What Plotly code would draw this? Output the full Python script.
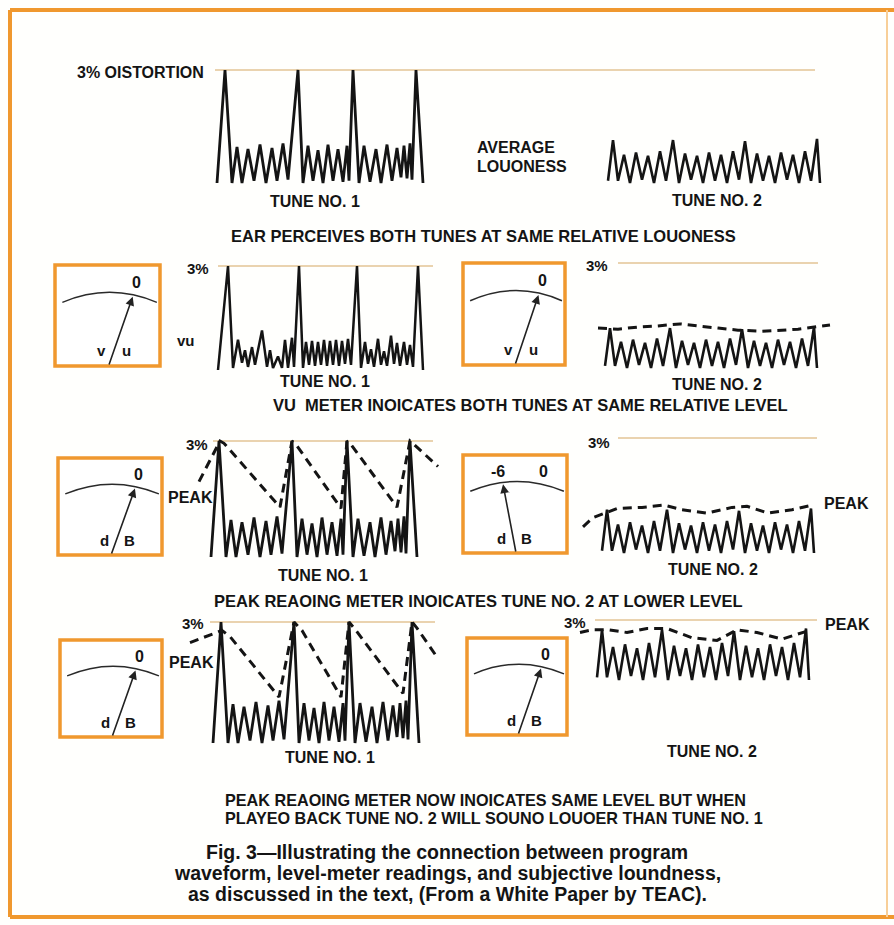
import plotly.graph_objects as go

W, H = 894, 925

# ---------------- data ----------------
# Levels are relative: 0 = waveform baseline, 1.0 = the "3 % distortion" line.
# Time is in arbitrary units along each waveform.

# Tune No. 1 (rows 1, 3, 4)
TUNE1_T = [0, 8, 15, 20, 25, 31, 37, 43, 49, 55, 60, 66, 71, 81, 86, 91, 96, 101, 106,
           111, 116, 121, 126, 130, 132, 136, 142, 147, 153, 159, 164, 170, 175, 180,
           184, 187, 190, 193, 195, 199, 206]
TUNE1_A = [0.0, 1.0, 0.0, 0.32, 0.0, 0.30, 0.02, 0.34, 0.0, 0.31, 0.02, 0.35, 0.03, 1.0,
           0.0, 0.33, 0.02, 0.29, 0.0, 0.34, 0.02, 0.30, 0.01, 0.33, 0.02, 1.0, 0.0, 0.33,
           0.01, 0.30, 0.0, 0.34, 0.02, 0.31, 0.05, 0.33, 0.04, 0.35, 0.03, 1.0, 0.0]

# Tune No. 1 as drawn in the VU row (row 2)
TUNE1_VU_T = [0, 10, 15, 20, 24, 27, 30, 34, 37, 44, 49, 52, 55, 60, 64, 67, 70, 74, 76, 81,
              85, 88, 91, 94, 97, 100, 103, 106, 109, 112, 115, 118, 121, 124, 127, 130, 133,
              139, 143, 147, 150, 153, 156, 160, 163, 166, 169, 173, 176, 179, 182, 186,
              189, 192, 195, 200, 205]
TUNE1_VU_A = [0.0, 1.0, 0.02, 0.29, 0.07, 0.19, 0.03, 0.22, 0.05, 0.38, 0.03, 0.19, 0.02,
              0.13, 0.02, 0.29, 0.02, 0.31, 0.03, 1.0, 0.02, 0.27, 0.05, 0.28, 0.04, 0.27,
              0.05, 0.29, 0.04, 0.28, 0.05, 0.29, 0.04, 0.28, 0.06, 0.30, 0.05, 1.0, 0.02,
              0.27, 0.06, 0.20, 0.03, 0.30, 0.05, 0.18, 0.04, 0.33, 0.06, 0.26, 0.04, 0.27,
              0.05, 0.24, 0.03, 1.0, 0.0]

# Tune No. 2 (all rows)
TUNE2_T = [0, 5, 10, 16, 22, 28, 34, 40, 46, 52, 58, 65, 71, 77, 83, 89, 95, 101, 107, 113,
           119, 125, 131, 137, 143, 149, 155, 161, 167, 173, 179, 185, 191, 197, 203, 209, 212]
TUNE2_A = [0.02, 0.38, 0.02, 0.25, 0.0, 0.27, 0.03, 0.24, 0.0, 0.28, 0.02, 0.38, 0.0, 0.26,
           0.03, 0.24, 0.0, 0.27, 0.02, 0.25, 0.0, 0.28, 0.03, 0.37, 0.0, 0.26, 0.02, 0.24,
           0.0, 0.27, 0.03, 0.25, 0.0, 0.28, 0.02, 0.39, 0.0]

# Peak-meter envelopes (dashed)
PEAK1_ROW3_T = [-12, 9, 13, 69, 81, 85, 130, 136, 140, 186, 199, 203, 227]
PEAK1_ROW3_A = [0.65, 1.0, 0.98, 0.43, 1.0, 0.97, 0.42, 1.0, 0.97, 0.43, 1.0, 0.97, 0.78]
PEAK1_ROW4_T = [-23, 9, 17, 66, 81, 89, 128, 136, 143, 190, 199, 204, 224]
PEAK1_ROW4_A = [0.83, 0.93, 0.88, 0.38, 1.0, 0.93, 0.38, 1.0, 0.93, 0.41, 1.0, 0.95, 0.71]
VU2_ROW2_T = [-7, 13, 33, 52, 75, 97, 113, 133, 157, 177, 193, 225]
VU2_ROW2_A = [0.38, 0.37, 0.39, 0.40, 0.42, 0.40, 0.38, 0.36, 0.35, 0.36, 0.37, 0.41]
PEAK2_ROW3_T = [-19, -9, 15, 40, 62, 80, 105, 130, 145, 166, 190, 210]
PEAK2_ROW3_A = [0.23, 0.31, 0.39, 0.40, 0.42, 0.38, 0.35, 0.40, 0.41, 0.35, 0.38, 0.42]
PEAK2_ROW4_T = [-17, -5, 12, 30, 50, 70, 95, 120, 140, 160, 185, 210]
PEAK2_ROW4_A = [0.36, 0.38, 0.38, 0.36, 0.39, 0.39, 0.32, 0.30, 0.38, 0.36, 0.31, 0.37]

# Meter readings (dB) and legends: row2 L/R, row3 L/R, row4 L/R
METER_READINGS = [0, 0, 0, -6, 0, 0]
METER_SCALES = [["0"], ["0"], ["0"], ["-6", "0"], ["0"], ["0"]]
METER_LEGENDS = [("v", "u"), ("v", "u"), ("d", "B"), ("d", "B"), ("d", "B"), ("d", "B")]

TUNE_LABELS = ["TUNE NO. 1", "TUNE NO. 2"]
ROW_NOTES = ["EAR PERCEIVES BOTH TUNES AT SAME RELATIVE LOUONESS",
             "VU  METER INOICATES BOTH TUNES AT SAME RELATIVE LEVEL",
             "PEAK REAOING METER INOICATES TUNE NO. 2 AT LOWER LEVEL"]
FINAL_NOTE = ["PEAK REAOING METER NOW INOICATES SAME LEVEL BUT WHEN",
              "PLAYEO BACK TUNE NO. 2 WILL SOUNO LOUOER THAN TUNE NO. 1"]
CAPTION = ["Fig. 3\u2014Illustrating the connection between program",
           "waveform, level-meter readings, and subjective loundness,",
           "as discussed in the text, (From a White Paper by TEAC)."]

# ---------------- styling ----------------
ORANGE = "#F0982E"
LINE3 = "#E3C594"
INK = "#141414"
FONT = "Liberation Sans, Arial, sans-serif"
LBL = 16      # label size
NOTE = 16.5   # row-note size

fig = go.Figure()
axes = {
    "xaxis": dict(domain=[0, 1], range=[0, W], visible=False, fixedrange=True),
    "yaxis": dict(domain=[0, 1], range=[H, 0], visible=False, fixedrange=True),
}
counter = [1]


def panel(origin, y0, y1, left=45, right=260, top=28, bot=10):
    """Invisible axes: t=0 at pixel x `origin`, level 0 at pixel y `y0`, level 1 at y `y1`."""
    counter[0] += 1
    k = counter[0]
    L = max(origin - left, 0)
    R = min(origin + right, W)
    T = max(y1 - top, 0)
    B = min(y0 + bot, H)

    def lvl(y):
        return (y0 - y) / (y0 - y1)

    axes[f"xaxis{k}"] = dict(domain=[L / W, R / W], range=[L - origin, R - origin],
                             visible=False, fixedrange=True, anchor=f"y{k}")
    axes[f"yaxis{k}"] = dict(domain=[1 - B / H, 1 - T / H], range=[lvl(B), lvl(T)],
                             visible=False, fixedrange=True, anchor=f"x{k}")
    return f"x{k}", f"y{k}"


def wave(t, a, xr, yr, width=2.8):
    fig.add_trace(go.Scatter(x=t, y=a, mode="lines", xaxis=xr, yaxis=yr,
                             line=dict(color=INK, width=width), hoverinfo="skip",
                             showlegend=False))


def dashed(t, a, xr, yr):
    fig.add_trace(go.Scatter(x=t, y=a, mode="lines", xaxis=xr, yaxis=yr,
                             line=dict(color=INK, width=3, dash="9px,6px"),
                             hoverinfo="skip", showlegend=False))


shapes = []
annots = []


def text(s, x, y, size=LBL, anchor="center", weight=700, color=INK):
    annots.append(dict(text=s, x=x, y=y, xref="x", yref="y", showarrow=False,
                       xanchor=anchor, yanchor="middle",
                       font=dict(family=FONT, size=size, color=color, weight=weight)))


def hline(x0, x1, y, color=LINE3, width=1.6):
    shapes.append(dict(type="line", xref="x", yref="y", x0=x0, x1=x1, y0=y, y1=y,
                       line=dict(color=color, width=width), layer="below"))


# ---------------- frame ----------------
shapes.append(dict(type="line", xref="x", yref="y", x0=10, x1=W, y0=10, y1=10,
                   line=dict(color=ORANGE, width=4)))
shapes.append(dict(type="line", xref="x", yref="y", x0=10, x1=10, y0=10, y1=917,
                   line=dict(color=ORANGE, width=4)))
shapes.append(dict(type="line", xref="x", yref="y", x0=10, x1=W, y0=917, y1=917,
                   line=dict(color=ORANGE, width=4)))
shapes.append(dict(type="line", xref="x", yref="y", x0=887, x1=887, y0=10, y1=917,
                   line=dict(color="#F8CF98", width=2)))

# ---------------- row 1 ----------------
hline(215, 815, 70)
xr, yr = panel(217, 183, 70)
wave(TUNE1_T, TUNE1_A, xr, yr)
xr, yr = panel(608, 183, 70)
wave(TUNE2_T, TUNE2_A, xr, yr, 2.6)
text("3% OISTORTION", 206, 72, LBL, "right")
text("AVERAGE", 475, 147, LBL, "left")
text("LOUONESS", 475, 166, LBL, "left")
text(TUNE_LABELS[0], 315, 201, LBL)
text(TUNE_LABELS[1], 717, 200, LBL)
text(ROW_NOTES[0], 483, 236, NOTE)

# ---------------- row 2 ----------------
hline(218, 433, 266)
hline(618, 818, 263)
xr, yr = panel(218, 370, 266)
wave(TUNE1_VU_T, TUNE1_VU_A, xr, yr, 2.5)
xr, yr = panel(605, 368, 263)
wave(TUNE2_T, TUNE2_A, xr, yr, 2.6)
dashed(VU2_ROW2_T, VU2_ROW2_A, xr, yr)
text("3%", 211, 268, 15, "right")
text("vu", 186, 340, 15)
text("3%", 597, 265, 15)
text(TUNE_LABELS[0], 325, 381, LBL)
text(TUNE_LABELS[1], 717, 384, LBL)
text(ROW_NOTES[1], 530, 405, NOTE)

# ---------------- row 3 ----------------
hline(213, 433, 441)
hline(618, 817, 438)
xr, yr = panel(211, 557, 441)
wave(TUNE1_T, TUNE1_A, xr, yr)
dashed(PEAK1_ROW3_T, PEAK1_ROW3_A, xr, yr)
xr, yr = panel(602, 553, 439)
wave(TUNE2_T, TUNE2_A, xr, yr, 2.6)
dashed(PEAK2_ROW3_T, PEAK2_ROW3_A, xr, yr)
text("3%", 197, 444, 15)
text("PEAK", 166, 497, LBL, "left")
text("3%", 599, 442, 15)
text("PEAK", 822, 503, LBL, "left")
text(TUNE_LABELS[0], 323, 575, LBL)
text(TUNE_LABELS[1], 713, 569, LBL)
text(ROW_NOTES[2], 478, 601, NOTE)

# ---------------- row 4 ----------------
hline(210, 435, 622)
hline(595, 817, 620)
xr, yr = panel(213, 743, 622)
wave(TUNE1_T, TUNE1_A, xr, yr)
dashed(PEAK1_ROW4_T, PEAK1_ROW4_A, xr, yr)
xr, yr = panel(597, 680, 548)
wave(TUNE2_T, TUNE2_A, xr, yr, 2.6)
dashed(PEAK2_ROW4_T, PEAK2_ROW4_A, xr, yr)
text("3%", 193, 623, 15)
text("PEAK", 167, 662, LBL, "left")
text("3%", 575, 622, 15)
text("PEAK", 823, 624, LBL, "left")
text(TUNE_LABELS[0], 330, 757, LBL)
text(TUNE_LABELS[1], 712, 751, LBL)

text(FINAL_NOTE[0], 223, 800, 16.2, "left")
text(FINAL_NOTE[1], 223, 818, 16.2, "left")
for i, line in enumerate(CAPTION):
    text(line, 447, 852 + 21 * i, 19.5, "center")

# ---------------- meters ----------------
METER_BOXES = [(55, 265, 160, 366), (463, 263, 565, 365),
               (58, 458, 162, 555), (463, 455, 567, 553),
               (60, 640, 162, 737), (467, 638, 567, 735)]


def dial_frac(db):
    # position across the meter face for a dB reading (0 dB near 0.74, -6 dB near 0.385)
    return 0.74 + db * (0.74 - 0.385) / 6.0


for (x0, y0, x1, y1), reading, scale, (la, lb) in zip(METER_BOXES, METER_READINGS,
                                                       METER_SCALES, METER_LEGENDS):
    w, h = x1 - x0, y1 - y0
    shapes.append(dict(type="rect", xref="x", yref="y", x0=x0, x1=x1, y0=y0, y1=y1,
                       line=dict(color=ORANGE, width=3.5), fillcolor="white"))
    xa, xb = x0 + 0.07 * w, x1 - 0.03 * w
    ye, yc = y0 + 0.37 * h, y0 + 0.17 * h
    shapes.append(dict(type="path", xref="x", yref="y",
                       path=f"M {xa},{ye} Q {(xa + xb) / 2},{yc} {xb},{ye}",
                       line=dict(color="#2a2a2a", width=1.5)))

    def arc_y(x):
        s = (x - xa) / (xb - xa)
        return (1 - s) ** 2 * ye + 2 * s * (1 - s) * yc + s ** 2 * ye

    px, py = x0 + 0.51 * w, y1
    tx = x0 + dial_frac(reading) * w
    ty = arc_y(tx) + 2
    annots.append(dict(x=tx, y=ty, ax=px, ay=py, xref="x", yref="y", axref="x", ayref="y",
                       text="", showarrow=True, arrowhead=2, arrowsize=1.1,
                       arrowwidth=1.6, arrowcolor="#222"))
    for lab in scale:
        v = float(lab)
        lx = x0 + dial_frac(v) * w + (4 if v == 0 else -5)
        text(lab, lx, y0 + 0.17 * h, 16)
    # legend letters either side of the needle
    ly = y1 - 0.15 * h
    nx = px + (tx - px) * (py - ly) / (py - ty)
    text(la, nx - 12, ly, 15)
    text(lb, nx + 13, ly, 15)

fig.update_layout(width=W, height=H, margin=dict(l=0, r=0, t=0, b=0),
                  paper_bgcolor="#FFFFFD", plot_bgcolor="rgba(0,0,0,0)",
                  shapes=shapes, annotations=annots, showlegend=False, **axes)
fig.write_html("out.html", config={"displayModeBar": False, "staticPlot": True},
               post_script="document.body.style.margin='0';"
                           "document.body.style.padding='0';"
                           "document.body.style.overflow='hidden';")
